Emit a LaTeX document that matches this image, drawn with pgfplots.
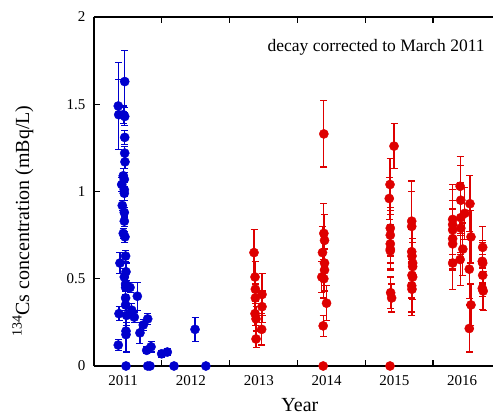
\documentclass[border=0pt]{standalone}
\usepackage{pgfplots}
\pgfplotsset{compat=1.18}
\usepackage{fontspec}
\setmainfont{Liberation Serif}
\definecolor{cblue}{RGB}{0,0,205}
\definecolor{cred}{RGB}{222,0,0}

% year, value, error
\pgfplotstableread{
x y e
2011.358 1.49 0.25
2011.365 1.44 0.20
2011.432 1.44 0.05
2011.453 1.63 0.18
2011.453 1.43 0.05
2011.453 1.31 0.04
2011.453 1.22 0.04
2011.457 1.17 0.04
2011.432 1.09 0.04
2011.409 1.04 0.04
2011.447 1.07 0.04
2011.447 1.01 0.04
2011.447 0.99 0.04
2011.417 0.92 0.03
2011.447 0.88 0.03
2011.447 0.83 0.03
2011.432 0.76 0.03
2011.457 0.74 0.03
2011.466 0.63 0.03
2011.383 0.59 0.06
2011.472 0.54 0.05
2011.447 0.51 0.05
2011.466 0.47 0.04
2011.466 0.45 0.04
2011.531 0.45 0.03
2011.639 0.40 0.08
2011.466 0.39 0.04
2011.466 0.35 0.03
2011.556 0.32 0.04
2011.369 0.30 0.04
2011.481 0.29 0.04
2011.594 0.28 0.03
2011.792 0.27 0.03
2011.727 0.235 0.03
2011.472 0.20 0.03
2011.472 0.18 0.10
2011.678 0.19 0.06
2011.358 0.12 0.03
2011.841 0.11 0.03
2011.777 0.09 0.02
2011.998 0.07 0.02
2012.081 0.08 0.02
2012.490 0.21 0.07
2011.472 0 0
2011.792 0 0
2011.826 0 0
2012.180 0 0
2012.650 0 0
}\bluedata

\pgfplotstableread{
x y e
2013.360 0.65 0.13
2013.375 0.51 0.09
2013.380 0.44 0.08
2013.380 0.39 0.08
2013.375 0.30 0.07
2013.390 0.27 0.07
2013.390 0.155 0.05
2013.478 0.41 0.12
2013.478 0.34 0.09
2013.473 0.21 0.09
2014.360 0.51 0.09
2014.390 1.33 0.19
2014.390 0.76 0.17
2014.400 0.72 0.15
2014.370 0.65 0.15
2014.400 0.59 0.13
2014.400 0.55 0.12
2014.390 0.50 0.11
2014.430 0.36 0.10
2014.380 0.23 0.06
2014.380 0 0
2015.425 1.26 0.13
2015.366 1.04 0.15
2015.355 0.96 0.12
2015.370 0.79 0.12
2015.370 0.75 0.12
2015.370 0.70 0.11
2015.370 0.67 0.11
2015.370 0.66 0.11
2015.375 0.42 0.09
2015.390 0.39 0.08
2015.366 0 0
2015.686 0.83 0.23
2015.686 0.80 0.20
2015.686 0.655 0.15
2015.690 0.63 0.15
2015.700 0.59 0.14
2015.700 0.57 0.14
2015.690 0.52 0.13
2015.700 0.51 0.13
2015.686 0.46 0.15
2015.690 0.44 0.15
2016.290 0.84 0.20
2016.290 0.81 0.20
2016.290 0.78 0.17
2016.290 0.73 0.17
2016.290 0.70 0.15
2016.290 0.59 0.15
2016.400 1.03 0.17
2016.410 0.95 0.20
2016.410 0.85 0.20
2016.470 0.875 0.15
2016.410 0.79 0.15
2016.400 0.61 0.15
2016.440 0.67 0.15
2016.545 0.93 0.16
2016.560 0.74 0.15
2016.535 0.555 0.17
2016.560 0.35 0.12
2016.535 0.215 0.135
2016.733 0.68 0.12
2016.727 0.60 0.12
2016.733 0.59 0.12
2016.733 0.52 0.12
2016.727 0.445 0.12
2016.740 0.43 0.11
}\reddata

\begin{document}
\begin{tikzpicture}
\begin{axis}[
  scale only axis,
  width=399bp, height=349bp,
  xmin=2011, xmax=2016.885,
  ymin=0, ymax=2,
  clip=false,
  axis y line*=left,
  axis line style={line width=1.1pt},
  tick style={line width=1.1pt, black},
  major tick length=6bp,
  tick align=inside,
  xtick={2012,2013,2014,2015,2016},
  xticklabels={},
  extra x ticks={2011.43,2012.43,2013.43,2014.43,2015.43,2016.43},
  extra x tick labels={2011,2012,2013,2014,2015,2016},
  extra x tick style={major tick length=0pt},
  ytick={0,0.5,1,1.5,2},
  yticklabels={0,0.5,1,1.5,2},
  ticklabel style={font=\fontsize{15bp}{17bp}\selectfont},
  xticklabel style={yshift=-6bp},
  yticklabel style={xshift=-5bp},
  /pgf/number format/assume math mode=true,
  xlabel={Year},
  ylabel={\textsuperscript{134}Cs concentration (mBq/L)},
  label style={font=\fontsize{20bp}{22bp}\selectfont},
  xlabel style={at={(axis description cs:0.516,-0.112)},anchor=center},
  ylabel style={at={(axis description cs:-0.178,0.415)},anchor=center},
  error bars/y dir=both,
  error bars/y explicit,
]
\addplot[only marks, mark=*, mark size=4.6bp, color=cblue,
  error bars/error bar style={line width=1.2pt, cblue},
  error bars/error mark options={rotate=90, mark size=3.5bp, line width=1.2pt, cblue}]
  table[x=x, y=y, y error=e] {\bluedata};
\addplot[only marks, mark=*, mark size=4.6bp, color=cred,
  error bars/error bar style={line width=1.2pt, cred},
  error bars/error mark options={rotate=90, mark size=3.5bp, line width=1.2pt, cred}]
  table[x=x, y=y, y error=e] {\reddata};
\node[anchor=east, font=\fontsize{17.5bp}{20bp}\selectfont] at (rel axis cs:0.988,0.914) {decay corrected to March 2011};
\coordinate (bl) at (rel axis cs:0,0);
\coordinate (tr) at (rel axis cs:1,1);
\end{axis}
\pgfresetboundingbox
\path[use as bounding box] ([shift={(-94bp,-52bp)}]bl) rectangle ([shift={(0bp,17bp)}]tr);
\end{tikzpicture}
\end{document}
